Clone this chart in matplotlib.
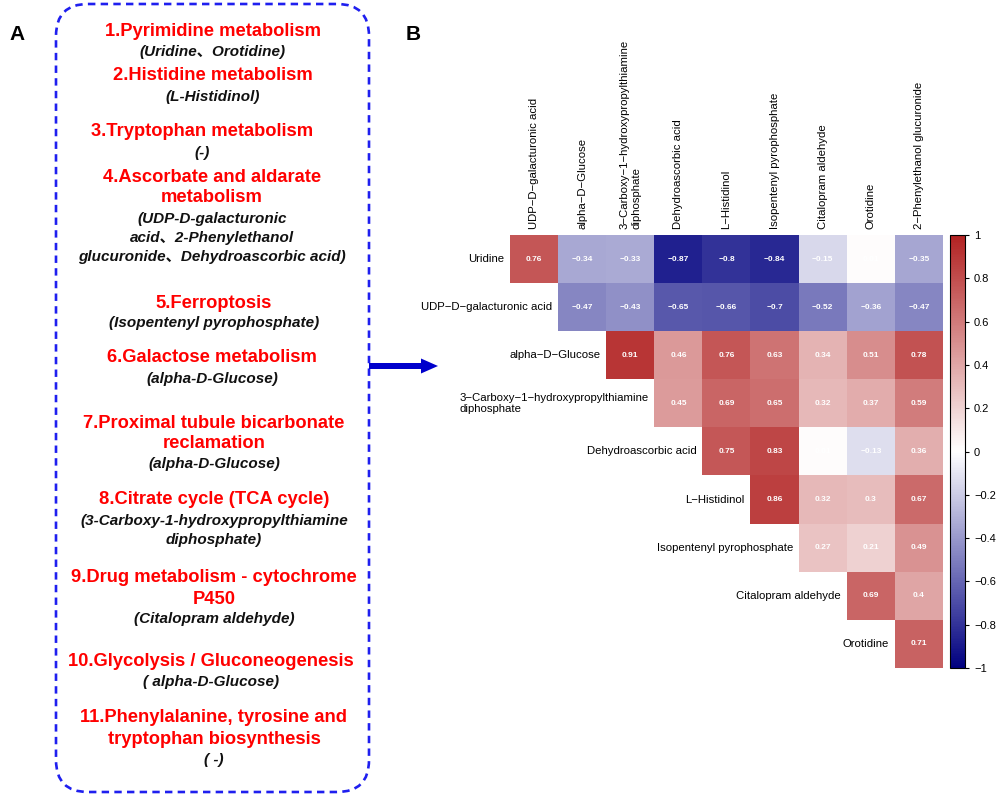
import numpy as np
import matplotlib.pyplot as plt
from matplotlib.colors import LinearSegmentedColormap
from matplotlib.patches import FancyBboxPatch, FancyArrow

plt.rcParams['font.family'] = ['Liberation Sans', 'Noto Sans CJK SC', 'DejaVu Sans']

# panel A: pathways and their metabolites
pathways = ["1.Pyrimidine metabolism",
            "2.Histidine metabolism",
            "3.Tryptophan metabolism",
            "4.Ascorbate and aldarate\nmetabolism",
            "5.Ferroptosis",
            "6.Galactose metabolism",
            "7.Proximal tubule bicarbonate\nreclamation",
            "8.Citrate cycle (TCA cycle)",
            "9.Drug metabolism - cytochrome\nP450",
            "10.Glycolysis / Gluconeogenesis",
            "11.Phenylalanine, tyrosine and\ntryptophan biosynthesis"]
compounds = ["(Uridine、Orotidine)",
             "(L-Histidinol)",
             "(-)",
             "(UDP-D-galacturonic\nacid、2-Phenylethanol\nglucuronide、Dehydroascorbic acid)",
             "(Isopentenyl pyrophosphate)",
             "(alpha-D-Glucose)",
             "(alpha-D-Glucose)",
             "(3-Carboxy-1-hydroxypropylthiamine\ndiphosphate)",
             "(Citalopram aldehyde)",
             "( alpha-D-Glucose)",
             "( -)"]

# panel B: correlation heatmap (upper triangle)
row_names = ["Uridine", "UDP\u2212D\u2212galacturonic acid", "alpha\u2212D\u2212Glucose",
             "3\u2212Carboxy\u22121\u2212hydroxypropylthiamine\ndiphosphate",
             "Dehydroascorbic acid", "L\u2212Histidinol", "Isopentenyl pyrophosphate",
             "Citalopram aldehyde", "Orotidine"]
col_names = ["UDP\u2212D\u2212galacturonic acid", "alpha\u2212D\u2212Glucose",
             "3\u2212Carboxy\u22121\u2212hydroxypropylthiamine\ndiphosphate",
             "Dehydroascorbic acid", "L\u2212Histidinol", "Isopentenyl pyrophosphate",
             "Citalopram aldehyde", "Orotidine", "2\u2212Phenylethanol glucuronide"]
corr_rows = [
    [0.76, -0.34, -0.33, -0.87, -0.8, -0.84, -0.15, 0.01, -0.35],
    [-0.47, -0.43, -0.65, -0.66, -0.7, -0.52, -0.36, -0.47],
    [0.91, 0.46, 0.76, 0.63, 0.34, 0.51, 0.78],
    [0.45, 0.69, 0.65, 0.32, 0.37, 0.59],
    [0.75, 0.83, 0.01, -0.13, 0.36],
    [0.86, 0.32, 0.3, 0.67],
    [0.27, 0.21, 0.49],
    [0.69, 0.4],
    [0.71],
]
cbar_ticks = [1, 0.8, 0.6, 0.4, 0.2, 0, -0.2, -0.4, -0.6, -0.8, -1]

W, H = 996, 796
fig = plt.figure(figsize=(W / 100, H / 100), dpi=100)

# overlay axes in pixel coordinates for panel A, labels and arrow
ax0 = fig.add_axes([0, 0, 1, 1])
ax0.set_xlim(0, W)
ax0.set_ylim(H, 0)
ax0.axis('off')

box = FancyBboxPatch((56, 4), 313, 788, boxstyle="round,pad=0,rounding_size=32",
                     fill=False, edgecolor='#1f1fef', lw=1.9, linestyle=(0, (2.8, 2.0)))
ax0.add_patch(box)

ax0.text(17, 35, "A", fontsize=15, fontweight='bold', ha='center', va='center')
ax0.text(413, 35, "B", fontsize=15, fontweight='bold', ha='center', va='center')

title_y = [31, 76, 132, 177, 304, 358, 423, 500, 578, 662, 718]
comp_y = [52, 97, 153, 219, 323, 379, 464, 521, 619, 682, 760]
x_c = [213, 213, 202, 212, 214, 212, 214, 214, 214, 211, 214]

for i in range(len(pathways)):
    for k, line in enumerate(pathways[i].split('\n')):
        ax0.text(x_c[i], title_y[i] + k * 21, line, color='#ff0000', fontsize=13.2,
                 fontweight='bold', ha='center', va='center')
    for k, line in enumerate(compounds[i].split('\n')):
        ax0.text(x_c[i], comp_y[i] + k * 19, line, color='#111111', fontsize=11,
                 fontweight='bold', fontstyle='italic', ha='center', va='center')

ax0.add_patch(FancyArrow(369, 366, 69, 0, width=6, head_width=15, head_length=17,
                         length_includes_head=True, color='#0000cc', lw=0))

# heatmap
n = len(row_names)
mat = np.full((n, n), np.nan)
for i, r in enumerate(corr_rows):
    mat[i, i:] = r

cmap = LinearSegmentedColormap.from_list("nwf", ["#000080", "#ffffff", "#b22222"])
ax = fig.add_axes([510 / W, 1 - 668 / H, 433 / W, 433 / H])
im = ax.imshow(np.ma.masked_invalid(mat), cmap=cmap, vmin=-1, vmax=1, aspect='auto')
ax.axis('off')

for i in range(n):
    for j in range(i, n):
        v = mat[i, j]
        ax.text(j, i, f"{v:g}".replace('-', '\u2212'), color='white', fontsize=6,
                fontweight='bold', ha='center', va='center')
    ax.text(i - 0.62, i, row_names[i], fontsize=8.2, ha='right', va='center',
            multialignment='left')
for j in range(n):
    ax.text(j, -0.62, col_names[j], fontsize=8.2, rotation=90, ha='center', va='bottom',
            multialignment='left')

cax = fig.add_axes([950 / W, 1 - 668 / H, 15 / W, 433 / H])
cb = fig.colorbar(im, cax=cax, ticks=cbar_ticks)
cb.ax.set_yticklabels([f"{t:g}".replace('-', '\u2212') for t in cbar_ticks])
cb.ax.tick_params(labelsize=8, length=3, width=0.8)
cb.outline.set_linewidth(0.8)

fig.savefig("out.png", dpi=100)
